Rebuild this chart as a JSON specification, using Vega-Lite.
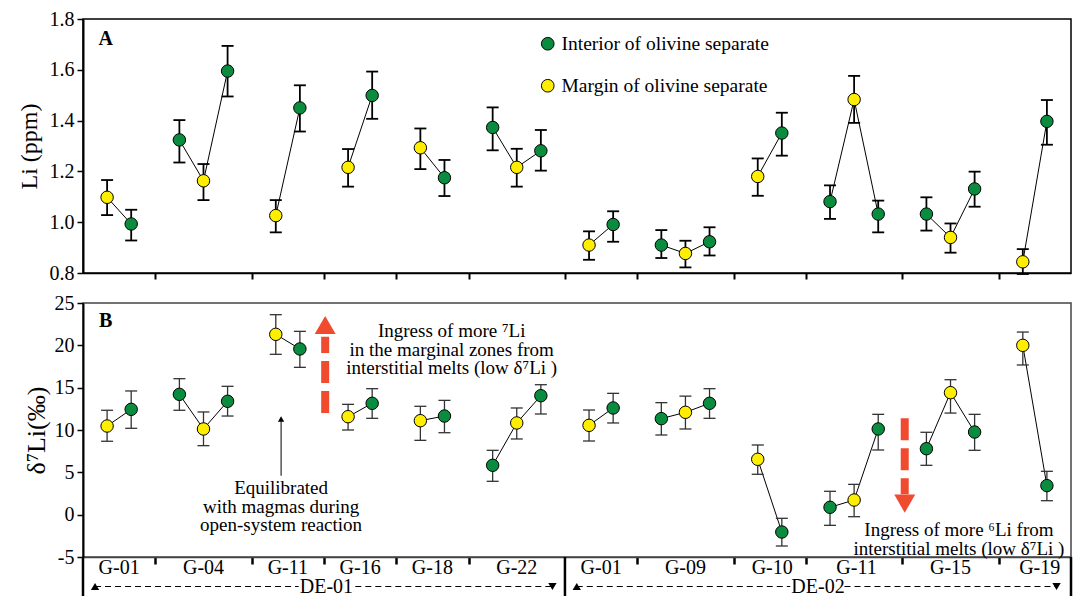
{
  "$schema": "https://vega.github.io/schema/vega-lite/v6.json",
  "autosize": {"type": "pad"},
  "padding": {"left": 16, "top": 8, "right": 7, "bottom": 0},
  "background": "white",
  "config": {
    "font": "Liberation Serif",
    "axis": {"labelFont": "Liberation Serif", "titleFont": "Liberation Serif", "labelColor": "black", "titleColor": "black", "grid": false},
    "legend": {"labelFont": "Liberation Serif"}
  },
  "datasets": {
    "pts": [
      {"g": "1-01", "x": 0, "type": "Margin of olivine separate", "li": 1.098, "lilo": 1.028, "lihi": 1.166, "d7": 10.47, "dlo": 8.67, "dhi": 12.33},
      {"g": "1-01", "x": 1, "type": "Interior of olivine separate", "li": 0.993, "lilo": 0.928, "lihi": 1.049, "d7": 12.44, "dlo": 10.2, "dhi": 14.61},
      {"g": "1-04", "x": 3, "type": "Interior of olivine separate", "li": 1.324, "lilo": 1.235, "lihi": 1.402, "d7": 14.21, "dlo": 12.33, "dhi": 16.06},
      {"g": "1-04", "x": 4, "type": "Margin of olivine separate", "li": 1.163, "lilo": 1.087, "lihi": 1.229, "d7": 10.12, "dlo": 8.15, "dhi": 12.13},
      {"g": "1-04", "x": 5, "type": "Interior of olivine separate", "li": 1.595, "lilo": 1.495, "lihi": 1.694, "d7": 13.39, "dlo": 11.65, "dhi": 15.16},
      {"g": "1-11", "x": 7, "type": "Margin of olivine separate", "li": 1.026, "lilo": 0.96, "lihi": 1.087, "d7": 21.3, "dlo": 18.94, "dhi": 23.62},
      {"g": "1-11", "x": 8, "type": "Interior of olivine separate", "li": 1.45, "lilo": 1.357, "lihi": 1.539, "d7": 19.57, "dlo": 17.4, "dhi": 21.65},
      {"g": "1-16", "x": 10, "type": "Margin of olivine separate", "li": 1.216, "lilo": 1.14, "lihi": 1.288, "d7": 11.57, "dlo": 10.0, "dhi": 13.03},
      {"g": "1-16", "x": 11, "type": "Interior of olivine separate", "li": 1.499, "lilo": 1.407, "lihi": 1.593, "d7": 13.15, "dlo": 11.38, "dhi": 14.88},
      {"g": "1-18", "x": 13, "type": "Margin of olivine separate", "li": 1.293, "lilo": 1.209, "lihi": 1.369, "d7": 11.1, "dlo": 8.78, "dhi": 12.8},
      {"g": "1-18", "x": 14, "type": "Interior of olivine separate", "li": 1.175, "lilo": 1.103, "lihi": 1.245, "d7": 11.65, "dlo": 9.68, "dhi": 13.5},
      {"g": "1-22", "x": 16, "type": "Interior of olivine separate", "li": 1.373, "lilo": 1.283, "lihi": 1.452, "d7": 5.83, "dlo": 3.94, "dhi": 7.6},
      {"g": "1-22", "x": 17, "type": "Margin of olivine separate", "li": 1.216, "lilo": 1.14, "lihi": 1.289, "d7": 10.83, "dlo": 8.94, "dhi": 12.6},
      {"g": "1-22", "x": 18, "type": "Interior of olivine separate", "li": 1.281, "lilo": 1.203, "lihi": 1.363, "d7": 14.05, "dlo": 11.89, "dhi": 15.35},
      {"g": "2-01", "x": 20, "type": "Margin of olivine separate", "li": 0.91, "lilo": 0.852, "lihi": 0.964, "d7": 10.55, "dlo": 8.7, "dhi": 12.36},
      {"g": "2-01", "x": 21, "type": "Interior of olivine separate", "li": 0.991, "lilo": 0.923, "lihi": 1.043, "d7": 12.6, "dlo": 10.83, "dhi": 14.33},
      {"g": "2-09", "x": 23, "type": "Interior of olivine separate", "li": 0.91, "lilo": 0.859, "lihi": 0.969, "d7": 11.34, "dlo": 9.41, "dhi": 13.23},
      {"g": "2-09", "x": 24, "type": "Margin of olivine separate", "li": 0.877, "lilo": 0.822, "lihi": 0.927, "d7": 12.09, "dlo": 10.12, "dhi": 14.0},
      {"g": "2-09", "x": 25, "type": "Interior of olivine separate", "li": 0.923, "lilo": 0.869, "lihi": 0.98, "d7": 13.15, "dlo": 11.38, "dhi": 14.88},
      {"g": "2-10", "x": 27, "type": "Margin of olivine separate", "li": 1.18, "lilo": 1.104, "lihi": 1.251, "d7": 6.54, "dlo": 4.77, "dhi": 8.23},
      {"g": "2-10", "x": 28, "type": "Interior of olivine separate", "li": 1.351, "lilo": 1.262, "lihi": 1.431, "d7": -2.05, "dlo": -3.7, "dhi": -0.43},
      {"g": "2-11", "x": 30, "type": "Interior of olivine separate", "li": 1.081, "lilo": 1.013, "lihi": 1.145, "d7": 0.87, "dlo": -1.26, "dhi": 2.76},
      {"g": "2-11", "x": 31, "type": "Margin of olivine separate", "li": 1.483, "lilo": 1.391, "lihi": 1.576, "d7": 1.73, "dlo": -0.24, "dhi": 3.58},
      {"g": "2-11", "x": 32, "type": "Interior of olivine separate", "li": 1.032, "lilo": 0.96, "lihi": 1.085, "d7": 10.12, "dlo": 7.64, "dhi": 11.85},
      {"g": "2-15", "x": 34, "type": "Interior of olivine separate", "li": 1.032, "lilo": 0.967, "lihi": 1.098, "d7": 7.79, "dlo": 5.83, "dhi": 9.73},
      {"g": "2-15", "x": 35, "type": "Margin of olivine separate", "li": 0.94, "lilo": 0.88, "lihi": 0.995, "d7": 14.41, "dlo": 12.0, "dhi": 15.94},
      {"g": "2-15", "x": 36, "type": "Interior of olivine separate", "li": 1.131, "lilo": 1.061, "lihi": 1.199, "d7": 9.76, "dlo": 7.6, "dhi": 11.85},
      {"g": "2-19", "x": 38, "type": "Margin of olivine separate", "li": 0.844, "lilo": 0.796, "lihi": 0.894, "d7": 20.0, "dlo": 17.68, "dhi": 21.57},
      {"g": "2-19", "x": 39, "type": "Interior of olivine separate", "li": 1.397, "lilo": 1.305, "lihi": 1.481, "d7": 3.43, "dlo": 1.65, "dhi": 5.12}
    ],
    "groups": [
      {"lab": "G-01", "x": 0.5, "row": "g"}, {"lab": "G-04", "x": 4, "row": "g"}, {"lab": "G-11", "x": 7.5, "row": "g"},
      {"lab": "G-16", "x": 10.5, "row": "g"}, {"lab": "G-18", "x": 13.5, "row": "g"}, {"lab": "G-22", "x": 17, "row": "g"},
      {"lab": "G-01", "x": 20.5, "row": "g"}, {"lab": "G-09", "x": 24, "row": "g"}, {"lab": "G-10", "x": 27.6, "row": "g"},
      {"lab": "G-11", "x": 31.1, "row": "g"}, {"lab": "G-15", "x": 35, "row": "g"}, {"lab": "G-19", "x": 38.7, "row": "g"}
    ],
    "sites": [{"lab": "DE-01", "x": 9.1, "row": "de"}, {"lab": "DE-02", "x": 29.5, "row": "de"}],
    "dashes": [
      {"x": -0.5, "x2": 7.95, "row": "de"}, {"x": 10.3, "x2": 18.48, "row": "de"},
      {"x": 19.49, "x2": 28.35, "row": "de"}, {"x": 30.6, "x2": 39.4, "row": "de"}
    ],
    "heads": [
      {"x": -0.5, "dir": "l", "row": "de"}, {"x": 18.48, "dir": "r", "row": "de"},
      {"x": 19.49, "dir": "l", "row": "de"}, {"x": 39.4, "dir": "r", "row": "de"}
    ],
    "bars": [{"x": -1}, {"x": 19}, {"x": 40}]
  },
  "bounds": "flush",
  "spacing": 30,
  "resolve": {"scale": {"x": "independent", "y": "independent", "fill": "independent"}, "axis": {"x": "independent", "y": "independent"}},
  "vconcat": [
    {
      "width": 988,
      "height": 254,
      "view": {"stroke": "black", "strokeWidth": 1.5},
      "layer": [
        {
          "data": {"name": "pts"},
          "mark": {"type": "line", "color": "black", "strokeWidth": 1},
          "encoding": {
            "x": {"field": "x", "type": "quantitative", "scale": {"domain": [-1, 40], "nice": false, "zero": false},
                  "axis": {"values": [2, 6, 9, 12, 15, 19, 22, 26, 29, 33, 37], "labels": false, "ticks": true, "tickSize": 6, "tickWidth": 2, "tickColor": "black", "domainColor": "black", "domainWidth": 1.5, "title": null}},
            "y": {"field": "li", "type": "quantitative", "scale": {"domain": [0.8, 1.8], "nice": false, "zero": false},
                  "axis": {"values": [0.8, 1.0, 1.2, 1.4, 1.6, 1.8], "format": ".1f", "title": "Li (ppm)", "titleFontSize": 24, "titleFontWeight": "normal", "titlePadding": 8, "labelFontSize": 20, "labelPadding": 3, "tickSize": 6, "tickWidth": 1.5, "tickColor": "black", "domainColor": "black", "domainWidth": 2}},
            "detail": {"field": "g"},
            "order": {"field": "x"}
          }
        },
        {
          "data": {"name": "pts"},
          "mark": {"type": "rule", "color": "black", "strokeWidth": 1.8},
          "encoding": {
            "x": {"field": "x", "type": "quantitative", "scale": {"domain": [-1, 40], "nice": false, "zero": false}, "axis": {"title": null}},
            "y": {"field": "lilo", "type": "quantitative", "scale": {"domain": [0.8, 1.8], "nice": false, "zero": false}, "axis": {"title": "Li (ppm)"}},
            "y2": {"field": "lihi"}
          }
        },
        {
          "data": {"name": "pts"},
          "mark": {"type": "tick", "orient": "horizontal", "size": 12, "thickness": 1.8, "color": "black", "opacity": 1},
          "encoding": {
            "x": {"field": "x", "type": "quantitative", "scale": {"domain": [-1, 40], "nice": false, "zero": false}, "axis": {"title": null}},
            "y": {"field": "lilo", "type": "quantitative", "scale": {"domain": [0.8, 1.8], "nice": false, "zero": false}, "axis": {"title": "Li (ppm)"}}
          }
        },
        {
          "data": {"name": "pts"},
          "mark": {"type": "tick", "orient": "horizontal", "size": 12, "thickness": 1.8, "color": "black", "opacity": 1},
          "encoding": {
            "x": {"field": "x", "type": "quantitative", "scale": {"domain": [-1, 40], "nice": false, "zero": false}, "axis": {"title": null}},
            "y": {"field": "lihi", "type": "quantitative", "scale": {"domain": [0.8, 1.8], "nice": false, "zero": false}, "axis": {"title": "Li (ppm)"}}
          }
        },
        {
          "data": {"name": "pts"},
          "mark": {"type": "point", "shape": "circle", "filled": true, "size": 155, "stroke": "black", "strokeWidth": 1, "opacity": 1},
          "encoding": {
            "x": {"field": "x", "type": "quantitative", "scale": {"domain": [-1, 40], "nice": false, "zero": false}, "axis": {"title": null}},
            "y": {"field": "li", "type": "quantitative", "scale": {"domain": [0.8, 1.8], "nice": false, "zero": false}, "axis": {"title": "Li (ppm)"}},
            "fill": {"field": "type", "type": "nominal",
                     "scale": {"domain": ["Interior of olivine separate", "Margin of olivine separate"], "range": ["#0a8c3e", "#ffee00"]},
                     "legend": {"orient": "none", "legendX": 455, "legendY": 15, "title": null, "labelFontSize": 19.5, "labelLimit": 0, "labelColor": "black", "symbolSize": 160, "symbolType": "circle", "symbolStrokeColor": "black", "symbolStrokeWidth": 1, "symbolOpacity": 1, "rowPadding": 21, "labelOffset": 4, "padding": 0}}
          }
        },
        {
          "data": {"values": [{"lab": "A", "x": -0.06, "y": 1.722}]},
          "mark": {"type": "text", "fontSize": 20, "fontWeight": "bold", "color": "black", "align": "center", "baseline": "middle"},
          "encoding": {
            "x": {"field": "x", "type": "quantitative", "scale": {"domain": [-1, 40], "nice": false, "zero": false}, "axis": {"title": null}},
            "y": {"field": "y", "type": "quantitative", "scale": {"domain": [0.8, 1.8], "nice": false, "zero": false}, "axis": {"title": "Li (ppm)"}},
            "text": {"field": "lab"}
          }
        }
      ]
    },
    {
      "bounds": "flush",
      "spacing": 0,
      "resolve": {"scale": {"x": "independent", "y": "independent", "fill": "independent"}, "axis": {"x": "independent", "y": "independent"}},
      "vconcat": [
        {
          "width": 988,
          "height": 254,
          "view": {"stroke": "#444", "strokeWidth": 1.5},
          "layer": [
            {
              "mark": {"type": "rule", "color": "#f04b2f", "strokeWidth": 4, "strokeDash": [17, 9]},
              "encoding": {
                "y": {"datum": 12, "type": "quantitative", "scale": {"domain": [-5, 25], "nice": false, "zero": false},
                      "axis": {"values": [-5, 0, 5, 10, 15, 20, 25], "labelExpr": "toString(datum.value)", "title": "δ⁷Li(‰)", "titleFontSize": 26, "titleFontWeight": "normal", "titlePadding": 5, "labelFontSize": 20, "labelPadding": 3, "tickSize": 6, "tickWidth": 1.5, "tickColor": "black", "domainColor": "black", "domainWidth": 2}}
              }
            },
            {
              "data": {"name": "pts"},
              "mark": {"type": "line", "color": "black", "strokeWidth": 1},
              "encoding": {
                "x": {"field": "x", "type": "quantitative", "scale": {"domain": [-1, 40], "nice": false, "zero": false},
                      "axis": {"values": [2, 6, 9, 12, 15, 22, 26, 29, 33, 37], "labels": false, "ticks": true, "tickSize": 7, "tickWidth": 2.5, "tickColor": "black", "domainColor": "#444", "domainWidth": 1.5, "title": null}},
                "y": {"field": "d7", "type": "quantitative", "scale": {"domain": [-5, 25], "nice": false, "zero": false}, "axis": {"title": "δ⁷Li(‰)"}},
                "detail": {"field": "g"},
                "order": {"field": "x"}
              }
            },
            {
              "data": {"name": "pts"},
              "mark": {"type": "rule", "color": "#333", "strokeWidth": 1.3},
              "encoding": {
                "x": {"field": "x", "type": "quantitative", "scale": {"domain": [-1, 40], "nice": false, "zero": false}, "axis": {"title": null}},
                "y": {"field": "dlo", "type": "quantitative", "scale": {"domain": [-5, 25], "nice": false, "zero": false}, "axis": {"title": "δ⁷Li(‰)"}},
                "y2": {"field": "dhi"}
              }
            },
            {
              "data": {"name": "pts"},
              "mark": {"type": "tick", "orient": "horizontal", "size": 12, "thickness": 1.3, "color": "#333", "opacity": 1},
              "encoding": {
                "x": {"field": "x", "type": "quantitative", "scale": {"domain": [-1, 40], "nice": false, "zero": false}, "axis": {"title": null}},
                "y": {"field": "dlo", "type": "quantitative", "scale": {"domain": [-5, 25], "nice": false, "zero": false}, "axis": {"title": "δ⁷Li(‰)"}}
              }
            },
            {
              "data": {"name": "pts"},
              "mark": {"type": "tick", "orient": "horizontal", "size": 12, "thickness": 1.3, "color": "#333", "opacity": 1},
              "encoding": {
                "x": {"field": "x", "type": "quantitative", "scale": {"domain": [-1, 40], "nice": false, "zero": false}, "axis": {"title": null}},
                "y": {"field": "dhi", "type": "quantitative", "scale": {"domain": [-5, 25], "nice": false, "zero": false}, "axis": {"title": "δ⁷Li(‰)"}}
              }
            },
            {
              "data": {"name": "pts"},
              "mark": {"type": "point", "shape": "circle", "filled": true, "size": 155, "stroke": "black", "strokeWidth": 1, "opacity": 1},
              "encoding": {
                "x": {"field": "x", "type": "quantitative", "scale": {"domain": [-1, 40], "nice": false, "zero": false}, "axis": {"title": null}},
                "y": {"field": "d7", "type": "quantitative", "scale": {"domain": [-5, 25], "nice": false, "zero": false}, "axis": {"title": "δ⁷Li(‰)"}},
                "fill": {"field": "type", "type": "nominal",
                         "scale": {"domain": ["Interior of olivine separate", "Margin of olivine separate"], "range": ["#0a8c3e", "#ffee00"]},
                         "legend": null}
              }
            },
            {
              "data": {"values": [{"x": 9.05, "y": 12, "y2": 21.0}, {"x": 33.1, "y": 11.4, "y2": 2.4}]},
              "mark": {"type": "rule", "color": "#f04b2f", "strokeWidth": 8, "strokeDash": [22, 8]},
              "encoding": {
                "x": {"field": "x", "type": "quantitative", "scale": {"domain": [-1, 40], "nice": false, "zero": false}, "axis": {"title": null}},
                "y": {"field": "y", "type": "quantitative", "scale": {"domain": [-5, 25], "nice": false, "zero": false}, "axis": {"title": "δ⁷Li(‰)"}},
                "y2": {"field": "y2"}
              }
            },
            {
              "data": {"values": [{"x": 9.05, "y": 22.4, "dir": "up"}, {"x": 33.1, "y": 1.3, "dir": "down"}]},
              "mark": {"type": "point", "filled": true, "size": 440, "color": "#f04b2f", "opacity": 1},
              "encoding": {
                "x": {"field": "x", "type": "quantitative", "scale": {"domain": [-1, 40], "nice": false, "zero": false}, "axis": {"title": null}},
                "y": {"field": "y", "type": "quantitative", "scale": {"domain": [-5, 25], "nice": false, "zero": false}, "axis": {"title": "δ⁷Li(‰)"}},
                "shape": {"field": "dir", "type": "nominal", "scale": {"domain": ["up", "down"], "range": ["triangle-up", "triangle-down"]}, "legend": null}
              }
            },
            {
              "data": {"values": [{"x": 7.22, "y": 4.6, "y2": 11.2}]},
              "mark": {"type": "rule", "color": "black", "strokeWidth": 1},
              "encoding": {
                "x": {"field": "x", "type": "quantitative", "scale": {"domain": [-1, 40], "nice": false, "zero": false}, "axis": {"title": null}},
                "y": {"field": "y", "type": "quantitative", "scale": {"domain": [-5, 25], "nice": false, "zero": false}, "axis": {"title": "δ⁷Li(‰)"}},
                "y2": {"field": "y2"}
              }
            },
            {
              "data": {"values": [{"x": 7.22, "y": 11.3}]},
              "mark": {"type": "point", "shape": "triangle-up", "filled": true, "size": 40, "color": "black", "opacity": 1},
              "encoding": {
                "x": {"field": "x", "type": "quantitative", "scale": {"domain": [-1, 40], "nice": false, "zero": false}, "axis": {"title": null}},
                "y": {"field": "y", "type": "quantitative", "scale": {"domain": [-5, 25], "nice": false, "zero": false}, "axis": {"title": "δ⁷Li(‰)"}}
              }
            },
            {
              "data": {"values": [
                {"x": 14.3, "y": 21.7, "t": ["Ingress of more ⁷Li", "in the marginal zones from", "interstitial melts (low δ⁷Li )"]},
                {"x": 7.22, "y": 3.15, "t": ["Equilibrated", "with magmas during", "open-system reaction"]},
                {"x": 35.35, "y": -1.8, "t": ["Ingress of more ⁶Li from", "interstitial melts (low δ⁷Li )"]}
              ]},
              "mark": {"type": "text", "fontSize": 19, "lineHeight": 18.7, "color": "black", "align": "center", "baseline": "middle"},
              "encoding": {
                "x": {"field": "x", "type": "quantitative", "scale": {"domain": [-1, 40], "nice": false, "zero": false}, "axis": {"title": null}},
                "y": {"field": "y", "type": "quantitative", "scale": {"domain": [-5, 25], "nice": false, "zero": false}, "axis": {"title": "δ⁷Li(‰)"}},
                "text": {"field": "t"}
              }
            },
            {
              "data": {"values": [{"lab": "B", "x": -0.06, "y": 22.87}]},
              "mark": {"type": "text", "fontSize": 20, "fontWeight": "bold", "color": "black", "align": "center", "baseline": "middle"},
              "encoding": {
                "x": {"field": "x", "type": "quantitative", "scale": {"domain": [-1, 40], "nice": false, "zero": false}, "axis": {"title": null}},
                "y": {"field": "y", "type": "quantitative", "scale": {"domain": [-5, 25], "nice": false, "zero": false}, "axis": {"title": "δ⁷Li(‰)"}},
                "text": {"field": "lab"}
              }
            }
          ]
        },
        {
          "width": 988,
          "height": 40,
          "view": {"stroke": null},
          "layer": [
            {
              "data": {"name": "bars"},
              "mark": {"type": "rule", "color": "black", "strokeWidth": 2.5},
              "encoding": {
                "x": {"field": "x", "type": "quantitative", "scale": {"domain": [-1, 40], "nice": false, "zero": false}, "axis": null}
              }
            },
            {
              "data": {"name": "groups"},
              "mark": {"type": "text", "fontSize": 20, "color": "black", "align": "center", "baseline": "middle"},
              "encoding": {
                "x": {"field": "x", "type": "quantitative", "scale": {"domain": [-1, 40], "nice": false, "zero": false}, "axis": null},
                "y": {"field": "row", "type": "ordinal", "scale": {"type": "point", "domain": ["g", "de"], "range": [11, 29.5], "padding": 0}, "axis": null},
                "text": {"field": "lab"}
              }
            },
            {
              "data": {"name": "dashes"},
              "mark": {"type": "rule", "color": "black", "strokeWidth": 1.2, "strokeDash": [6, 4]},
              "encoding": {
                "x": {"field": "x", "type": "quantitative", "scale": {"domain": [-1, 40], "nice": false, "zero": false}, "axis": null},
                "x2": {"field": "x2"},
                "y": {"field": "row", "type": "ordinal", "scale": {"type": "point", "domain": ["g", "de"], "range": [11, 29.5], "padding": 0}, "axis": null}
              }
            },
            {
              "data": {"name": "heads"},
              "mark": {"type": "point", "filled": true, "size": 70, "color": "black", "opacity": 1},
              "encoding": {
                "x": {"field": "x", "type": "quantitative", "scale": {"domain": [-1, 40], "nice": false, "zero": false}, "axis": null},
                "y": {"field": "row", "type": "ordinal", "scale": {"type": "point", "domain": ["g", "de"], "range": [11, 29.5], "padding": 0}, "axis": null},
                "shape": {"field": "dir", "type": "nominal", "scale": {"domain": ["l", "r"], "range": ["triangle-left", "triangle-right"]}, "legend": null}
              }
            },
            {
              "data": {"name": "sites"},
              "mark": {"type": "text", "fontSize": 20, "color": "black", "align": "center", "baseline": "middle"},
              "encoding": {
                "x": {"field": "x", "type": "quantitative", "scale": {"domain": [-1, 40], "nice": false, "zero": false}, "axis": null},
                "y": {"field": "row", "type": "ordinal", "scale": {"type": "point", "domain": ["g", "de"], "range": [11, 29.5], "padding": 0}, "axis": null},
                "text": {"field": "lab"}
              }
            }
          ]
        }
      ]
    }
  ]
}
